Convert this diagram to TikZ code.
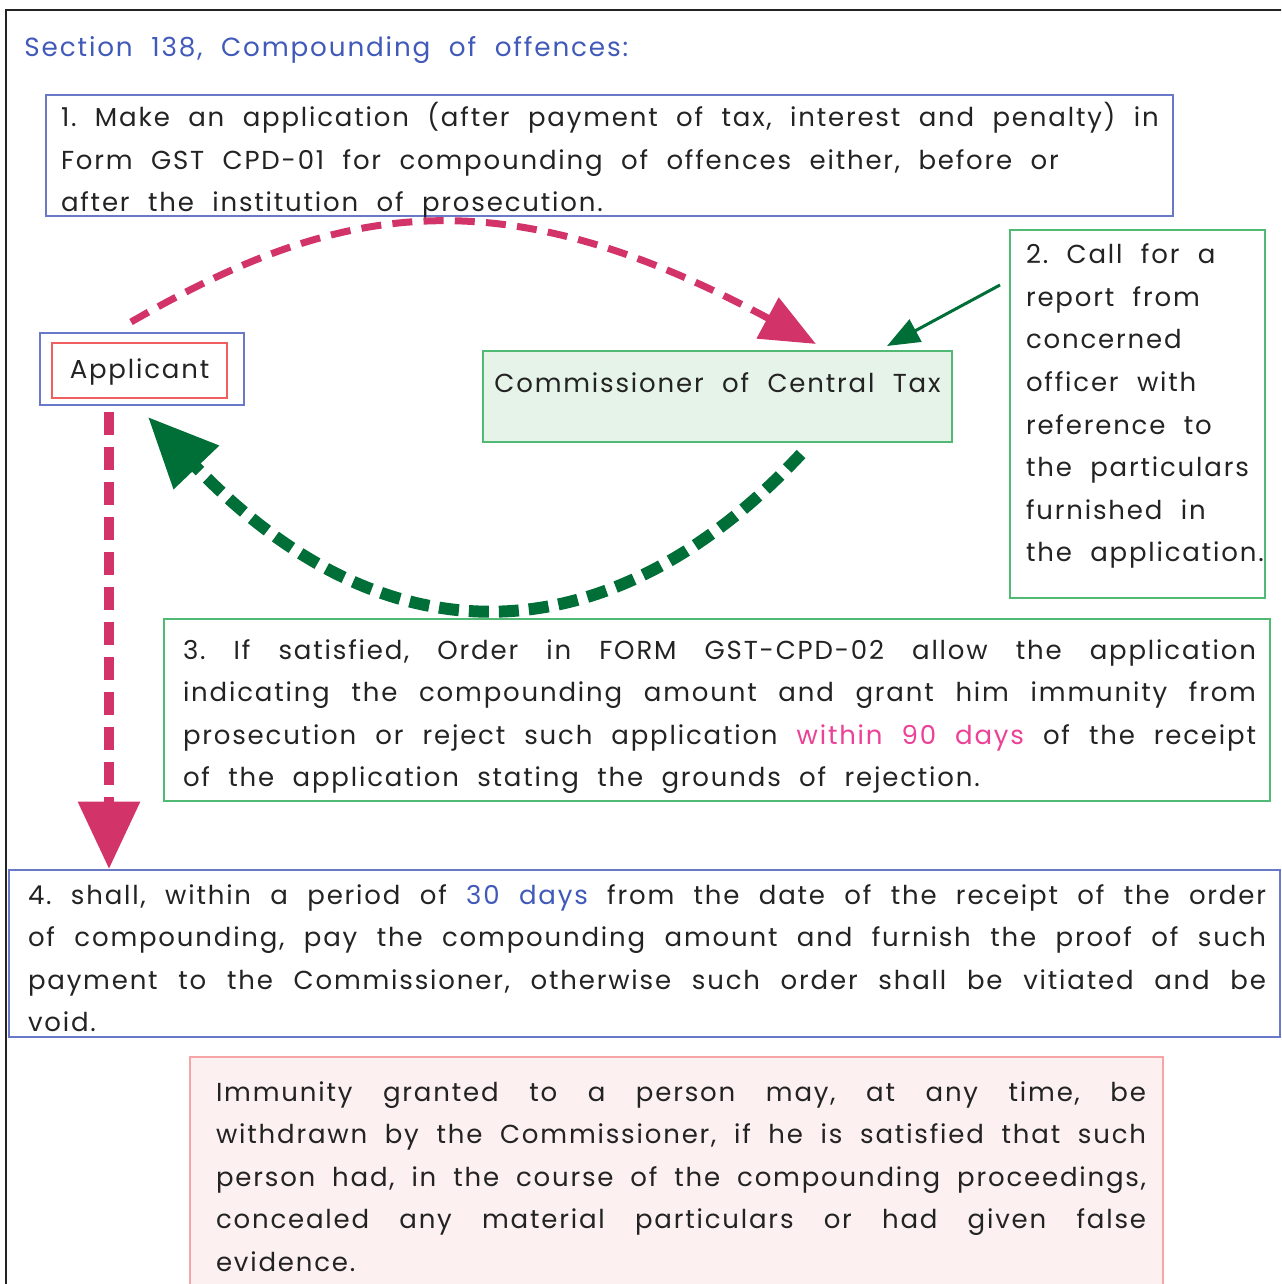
\documentclass[tikz,border=0pt]{standalone}
\usepackage{fontspec}
\setmainfont{Poppins}[LetterSpace=7,WordSpace=2.1]
\usetikzlibrary{arrows.meta}
\definecolor{ink}{RGB}{35,35,35}
\definecolor{cTitle}{RGB}{65,90,185}
\definecolor{cBlue}{RGB}{105,120,200}
\definecolor{cGreen}{RGB}{80,185,115}
\definecolor{cMint}{RGB}{229,243,233}
\definecolor{cRed}{RGB}{240,95,95}
\definecolor{cPink}{RGB}{210,52,105}
\definecolor{cForest}{RGB}{0,110,55}
\definecolor{cRose}{RGB}{245,165,165}
\definecolor{cBlush}{RGB}{252,240,240}
\definecolor{cHot}{RGB}{235,65,150}
\newlength{\jw}
% width, height, first baseline, left pad, text
\newcommand{\pane}[5]{%
  \begin{minipage}[t][#2][t]{#1}\raggedright\frenchspacing\leftskip=#4\relax
  \vspace*{\dimexpr#3-9pt\relax}\rule{0pt}{9pt}#5\end{minipage}}
\newcommand{\jl}[1]{\makebox[\jw][s]{#1}\\}
\tikzset{
  panel/.style={draw,line width=0.8pt,inner sep=0pt,anchor=north west,
    text=ink,font=\fontsize{10.4}{17}\selectfont},
  bluebox/.style={panel,draw=cBlue},
  greenbox/.style={panel,draw=cGreen},
  redbox/.style={panel,draw=cRed},
  rosebox/.style={panel,draw=cRose,fill=cBlush},
  pinkflow/.style={cPink,line width=2.8pt,dash pattern=on 8pt off 4.5pt,
    -{Triangle[length=22pt,width=18pt]}},
  pinkdrop/.style={cPink,line width=4pt,dash pattern=on 9pt off 5pt,
    -{Triangle[length=27pt,width=24pt]}},
  greenflow/.style={cForest,line width=4.8pt,dash pattern=on 8pt off 4pt,
    -{Triangle[length=28pt,width=24pt]}},
  callar/.style={cForest,line width=1.2pt,-{Triangle[length=13pt,width=10pt]}},
}

\begin{document}
\begin{tikzpicture}[x=0.4pt,y=-0.4pt]
  \useasboundingbox (0,0) rectangle (1281,1284);
  \clip (0,0) rectangle (1281,1284);
  \draw[ink,line width=0.8pt] (6,1300) -- (6,10) -- (1300,10);
  \node[anchor=base west,inner sep=0pt,text=cTitle,font=\fontsize{10.5}{17}\selectfont]
    (title) at (24,57) {Section 138, Compounding of offences:};
  % the boxes
  \node[bluebox] (request) at (45,94)
    {\pane{450.8pt}{48.4pt}{12pt}{6pt}{1. Make an application (after payment of tax, interest and penalty) in\\
      Form GST CPD-01 for compounding of offences either, before or\\
      after the institution of prosecution.}};
  \node[bluebox,minimum width=81.6pt,minimum height=28.8pt] (appouter) at (39,332) {};
  \node[redbox] (applicant) at (51,342)
    {\pane{70pt}{22pt}{14.4pt}{0pt}{\centering Applicant}};
  \node[greenbox,fill=cMint] (comm) at (482,350)
    {\pane{187.6pt}{36.4pt}{16.4pt}{0pt}{\centering Commissioner of Central Tax}};
  \node[greenbox] (report) at (1009,229)
    {\pane{102pt}{147.2pt}{13.6pt}{6.4pt}{2.~Call~for~a\\report~from\\concerned\\officer~with\\
      reference~to\\the~particulars\\furnished~in\\the~application.}};
  \node[greenbox] (order) at (163,618)
    {\pane{442.4pt}{72.8pt}{16pt}{7.6pt}{\setlength{\jw}{429.2pt}%
      \jl{3. If satisfied, Order in FORM GST-CPD-02 allow the application}%
      \jl{indicating the compounding amount and grant him immunity from}%
      \jl{prosecution or reject such application \textcolor{cHot}{within 90 days} of the receipt}%
      of the application stating the grounds of rejection.}};
  \node[bluebox] (payment) at (8,869)
    {\pane{508.4pt}{66.8pt}{13.6pt}{7.6pt}{\setlength{\jw}{495.2pt}%
      \jl{4. shall, within a period of \textcolor{cTitle}{30 days} from the date of the receipt of the order}%
      \jl{of compounding, pay the compounding amount and furnish the proof of such}%
      \jl{payment to the Commissioner, otherwise such order shall be vitiated and be}%
      void.}};
  \node[rosebox] (immunity) at (189,1056)
    {\pane{389.2pt}{97.6pt}{17.6pt}{10.4pt}{\setlength{\jw}{372pt}%
      \jl{Immunity granted to a person may, at any time, be}%
      \jl{withdrawn by the Commissioner, if he is satisfied that such}%
      \jl{person had, in the course of the compounding proceedings,}%
      \jl{concealed any material particulars or had given false}%
      evidence.}};
  % the flows
  \draw[pinkflow] ([xshift=-4.4pt,yshift=4pt]appouter.north)
    .. controls +(205,-118) and +(-320,-172) .. ([xshift=39.4pt,yshift=2.4pt]comm.north);
  \draw[callar] ([xshift=-3.6pt,yshift=-22.4pt]report.north west)
    -- ([xshift=-26.4pt,yshift=1.6pt]comm.north east);
  \draw[greenflow] ([xshift=33.4pt,yshift=-4.4pt]comm.south)
    .. controls +(-173,186) and +(255,266) .. ([xshift=2.4pt,yshift=-4.4pt]appouter.south);
  \coordinate (drop) at ([xshift=-13.2pt]appouter.south);
  \draw[pinkdrop] ([yshift=-2.4pt]drop) -- (drop |- payment.north);
\end{tikzpicture}
\end{document}
